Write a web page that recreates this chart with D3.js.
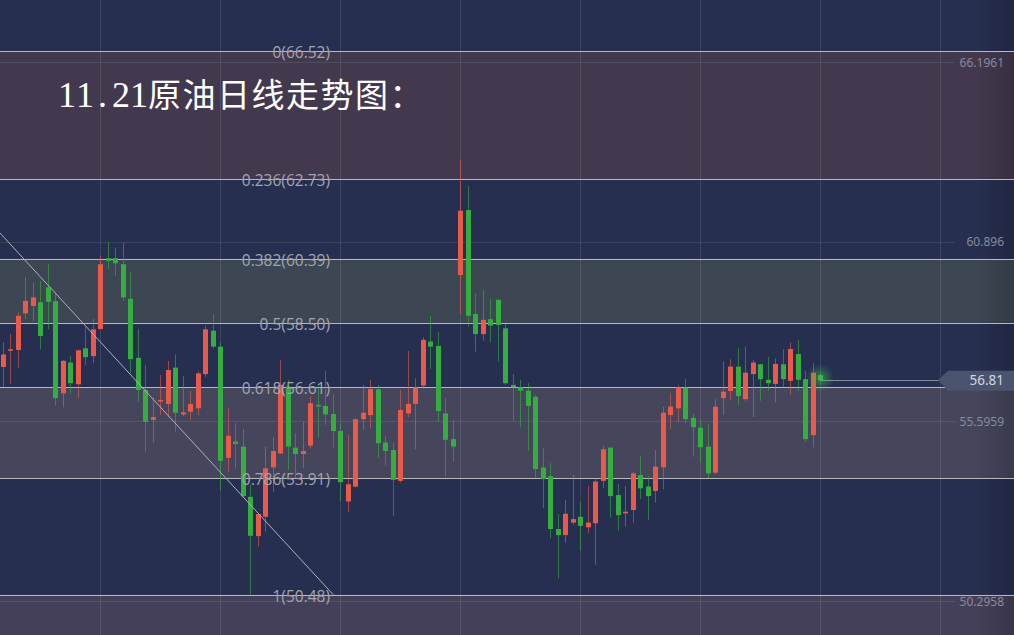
<!DOCTYPE html>
<html>
<head>
<meta charset="utf-8">
<script src="https://cdn.jsdelivr.net/npm/d3@7/dist/d3.min.js"></script>
<style>
html,body{margin:0;padding:0;background:#272f50;overflow:hidden;}
svg{display:block;}
</style>
</head>
<body>
<svg id="chart" width="1014" height="635"></svg>
<script>
// ---------------- DATA ----------------
const title = "11.21原油日线走势图：";
// daily candles, index 0..109 (open, high, low, close)
const opens  = [57.20,57.68,57.70,58.78,59.00,59.11,59.55,59.14,56.42,57.33,
                56.69,57.75,57.52,58.32,60.41,60.41,60.23,59.21,57.47,56.52,
                55.64,56.18,56.11,57.18,55.80,55.88,55.98,56.99,58.27,57.80,
                54.52,55.00,54.85,53.37,52.21,52.78,54.24,54.65,56.62,54.82,
                54.63,54.88,56.08,56.05,55.81,55.31,53.23,53.67,55.66,55.78,
                56.54,54.97,54.75,53.84,55.83,56.11,56.65,57.95,57.82,55.83,
                55.07,59.91,61.83,58.76,58.17,58.61,59.18,58.34,56.67,56.60,
                56.50,56.32,54.23,53.98,52.42,52.24,52.61,52.78,52.47,52.59,
                53.84,54.82,53.42,52.88,52.98,54.01,53.67,53.54,54.24,55.78,
                55.98,56.59,55.70,55.41,54.85,54.08,56.28,56.49,57.21,56.25,
                56.99,57.28,56.82,56.70,57.28,56.79,57.58,56.84,55.19,56.96];
const highs  = [57.93,58.17,58.80,59.85,59.69,59.74,60.24,59.37,57.41,57.52,
                57.71,58.39,58.61,60.49,60.89,60.72,60.87,60.00,58.32,57.26,
                56.30,56.96,57.38,57.57,56.93,56.49,57.06,58.42,58.76,57.93,
                55.98,55.54,55.37,53.72,52.86,54.85,55.14,57.41,56.82,55.24,
                55.58,56.34,56.65,57.08,56.39,55.54,55.19,55.68,56.67,56.82,
                56.67,55.16,54.98,56.52,57.67,56.87,58.07,58.70,58.22,56.28,
                55.64,63.31,62.54,59.37,59.47,59.20,59.20,58.47,56.99,56.82,
                56.72,56.37,54.80,54.36,52.86,53.28,54.01,53.22,53.69,53.92,
                54.87,54.83,53.75,53.69,54.11,54.57,53.98,54.75,56.03,56.44,
                56.67,56.84,55.81,55.66,55.52,56.25,57.36,57.43,57.75,57.80,
                57.41,57.29,57.49,57.46,57.73,57.92,58.00,57.08,57.31,57.01];
const lows   = [56.62,56.70,57.18,58.61,58.56,57.72,58.31,56.06,56.01,56.42,
                56.28,57.26,57.31,58.30,60.09,59.89,59.15,57.01,56.18,54.70,
                54.97,55.78,55.72,55.29,55.75,55.64,55.78,56.91,57.75,53.55,
                54.11,54.21,53.37,50.48,51.90,52.34,53.52,54.63,54.16,53.92,
                54.21,54.80,55.12,55.49,54.82,53.23,52.93,53.65,55.34,55.39,
                54.53,54.31,52.81,53.79,55.72,54.78,56.55,57.14,55.58,53.96,
                54.41,58.76,58.39,57.65,57.97,57.92,57.36,56.67,55.61,55.42,
                54.73,53.93,53.03,52.15,50.97,52.02,52.54,51.78,52.29,51.36,
                53.62,52.75,52.37,52.49,52.61,53.30,52.69,53.20,53.59,55.37,
                55.56,55.54,54.55,54.38,53.92,54.03,55.78,56.23,56.08,56.20,
                55.72,56.20,56.50,56.15,56.60,56.39,56.49,55.00,54.83,56.72];
const closes = [57.57,57.72,58.71,59.15,59.25,58.11,59.12,56.28,57.38,56.72,
                57.69,57.49,58.31,60.23,60.33,60.26,59.25,57.43,56.52,55.58,
                55.72,56.23,57.11,55.85,55.86,56.11,57.01,58.31,57.80,54.43,
                55.17,54.93,53.39,52.22,52.86,54.21,54.72,56.67,54.85,54.63,
                54.72,56.13,56.05,55.80,55.31,53.80,53.74,55.66,55.85,56.55,
                54.95,54.72,53.87,55.93,56.11,56.60,58.00,57.80,55.90,55.05,
                54.85,61.81,58.71,58.17,58.59,58.42,58.44,56.72,56.60,56.50,
                56.05,54.19,53.89,52.42,52.24,52.87,52.71,52.51,52.61,53.82,
                54.77,53.39,52.83,52.93,54.06,53.62,53.39,54.26,55.85,56.03,
                56.60,55.66,55.42,54.83,54.06,56.03,56.47,57.21,56.34,57.03,
                57.33,56.84,56.72,57.29,56.84,57.73,56.82,55.07,57.03,56.81];
// Fibonacci retracement levels
const fibRatios = ["0","0.236","0.382","0.5","0.618","0.786","1"];
const fibPrices = [66.52,62.73,60.39,58.50,56.61,53.91,50.48];
// right price axis tick labels
const axisTicks = [66.1961,60.896,55.5959,50.2958];
// last price
const lastPrice = 56.81;
// trend line anchors (candle index, price)
const trendIdx = [-0.36,44.08];
const trendPrice = [61.15,50.48];
// time grid (candle indices)
const timeGrid = [13,29,45,61,77,93,109,125];

// ---------------- CHART ----------------
const W = 1014, H = 635;
const svg = d3.select("#chart");
const y = d3.scaleLinear().domain([50.2958, 66.1961]).range([601, 62]);
const x = d3.scaleLinear().domain([0, 109]).range([2.7, 820.2]);

const defs = svg.append("defs");
const glow = defs.append("radialGradient").attr("id","glow");
glow.append("stop").attr("offset","0%").attr("stop-color","#3ec24a").attr("stop-opacity",0.55);
glow.append("stop").attr("offset","100%").attr("stop-color","#3ec24a").attr("stop-opacity",0);
const edge = defs.append("linearGradient").attr("id","edge").attr("x1","0").attr("x2","1");
edge.append("stop").attr("offset","0%").attr("stop-color","#000").attr("stop-opacity",0);
edge.append("stop").attr("offset","100%").attr("stop-color","#000").attr("stop-opacity",0.18);

// background
svg.append("rect").attr("width",W).attr("height",H).attr("fill","#272f50");

// bands
const bands = [
  {a:0,b:1,fill:"#43394f"},
  {a:2,b:3,fill:"#3d4754"},
  {a:4,b:5,fill:"#45465c"}
];
svg.selectAll("rect.band").data(bands).join("rect").attr("class","band")
  .attr("x",0).attr("width",W)
  .attr("y",d=>y(fibPrices[d.a])).attr("height",d=>y(fibPrices[d.b])-y(fibPrices[d.a]))
  .attr("fill",d=>d.fill);
svg.append("rect").attr("x",0).attr("width",W)
  .attr("y",y(fibPrices[6])).attr("height",H-y(fibPrices[6])).attr("fill","#454059");

// grid lines
svg.selectAll("line.vg").data(timeGrid).join("line").attr("class","vg")
  .attr("x1",d=>Math.round(x(d))+0.5).attr("x2",d=>Math.round(x(d))+0.5)
  .attr("y1",0).attr("y2",H)
  .attr("stroke","#ffffff").attr("stroke-opacity",0.1);
svg.selectAll("line.hg").data(axisTicks).join("line").attr("class","hg")
  .attr("x1",0).attr("x2",955)
  .attr("y1",d=>Math.round(y(d))+0.5).attr("y2",d=>Math.round(y(d))+0.5)
  .attr("stroke","#ffffff").attr("stroke-opacity",0.09);

// right edge shade
svg.append("rect").attr("x",975).attr("y",0).attr("width",39).attr("height",H).attr("fill","url(#edge)");

// fib lines
svg.selectAll("line.fib").data(fibPrices).join("line").attr("class","fib")
  .attr("x1",0).attr("x2",W)
  .attr("y1",d=>Math.round(y(d))+0.5).attr("y2",d=>Math.round(y(d))+0.5)
  .attr("stroke","#b8b8bf").attr("stroke-width",1);

// candles
const candles = d3.range(opens.length).map(i=>({i,o:opens[i],h:highs[i],l:lows[i],c:closes[i]}));
const colUp = "#e95a4b", colDown = "#35ad40";
const g = svg.append("g");
g.selectAll("line.wick").data(candles).join("line").attr("class","wick")
  .attr("x1",d=>Math.round(x(d.i))+0.5).attr("x2",d=>Math.round(x(d.i))+0.5)
  .attr("y1",d=>y(d.h)).attr("y2",d=>y(d.l))
  .attr("stroke",d=>d.c>=d.o?colUp:colDown).attr("stroke-opacity",0.6).attr("stroke-width",1);
g.selectAll("rect.body").data(candles).join("rect").attr("class","body")
  .attr("x",d=>Math.round(x(d.i))-2).attr("width",5)
  .attr("y",d=>y(Math.max(d.o,d.c)))
  .attr("height",d=>Math.max(1.5,Math.abs(y(d.o)-y(d.c))))
  .attr("fill",d=>d.c>=d.o?colUp:colDown);

// trend line
svg.append("line")
  .attr("x1",x(trendIdx[0])).attr("y1",y(trendPrice[0]))
  .attr("x2",x(trendIdx[1])).attr("y2",y(trendPrice[1]))
  .attr("stroke","#b0b0b8").attr("stroke-width",1);

// fib labels
svg.selectAll("text.fibl").data(fibPrices).join("text").attr("class","fibl")
  .attr("x",330).attr("y",d=>Math.round(y(d))+7)
  .attr("text-anchor","end")
  .attr("font-family","'Open Sans','Noto Sans',sans-serif").attr("font-size",15.5)
  .attr("fill","#a3a4ae")
  .text((d,i)=>fibRatios[i]+"("+d.toFixed(2)+")");

// right axis labels
svg.selectAll("text.ax").data(axisTicks).join("text").attr("class","ax")
  .attr("x",1004).attr("y",d=>y(d)+4.5)
  .attr("text-anchor","end")
  .attr("font-family","'Noto Sans',sans-serif").attr("font-size",12)
  .attr("fill","#878b9c")
  .text(d=>String(d));

// last price line, glow and tag
const last = candles[candles.length-1];
const ly = Math.round(y(lastPrice))+0.5;
svg.append("line").attr("x1",x(last.i)).attr("x2",940).attr("y1",ly).attr("y2",ly)
  .attr("stroke","#9aa0b4").attr("stroke-opacity",0.8);
svg.append("circle").attr("cx",x(last.i)).attr("cy",y(lastPrice)-2).attr("r",14).attr("fill","url(#glow)");
const tagTop = y(lastPrice)-9.5, tagBot = y(lastPrice)+10.5;
svg.append("path")
  .attr("d",`M938,${y(lastPrice)} L948,${tagTop} L${W},${tagTop} L${W},${tagBot} L948,${tagBot} Z`)
  .attr("fill","#4b546f");
svg.append("text").attr("x",1004).attr("y",y(lastPrice)+5)
  .attr("text-anchor","end")
  .attr("font-family","'Noto Sans',sans-serif").attr("font-size",13.5)
  .attr("fill","#d3d6df").text(lastPrice.toFixed(2));

// title: half-width chars advance 18px, full-width 34.5px
const tChars = Array.from(title);
let cx = 58;
const tPos = tChars.map(ch=>{
  const wide = /[^\x00-\xff]/.test(ch);
  const p = {ch, x:cx, wide};
  cx += wide ? 34.5 : 18;
  return p;
});
const tt = svg.append("text").attr("y",107)
  .attr("font-family","'Liberation Serif','Noto Sans CJK SC',serif")
  .attr("fill","#ffffff");
tt.selectAll("tspan").data(tPos).join("tspan")
  .attr("x",d=>d.x + (d.wide?0:(d.ch==="."?4:0)))
  .attr("font-size",d=>d.wide?33:36)
  .text(d=>d.ch);
</script>
</body>
</html>
